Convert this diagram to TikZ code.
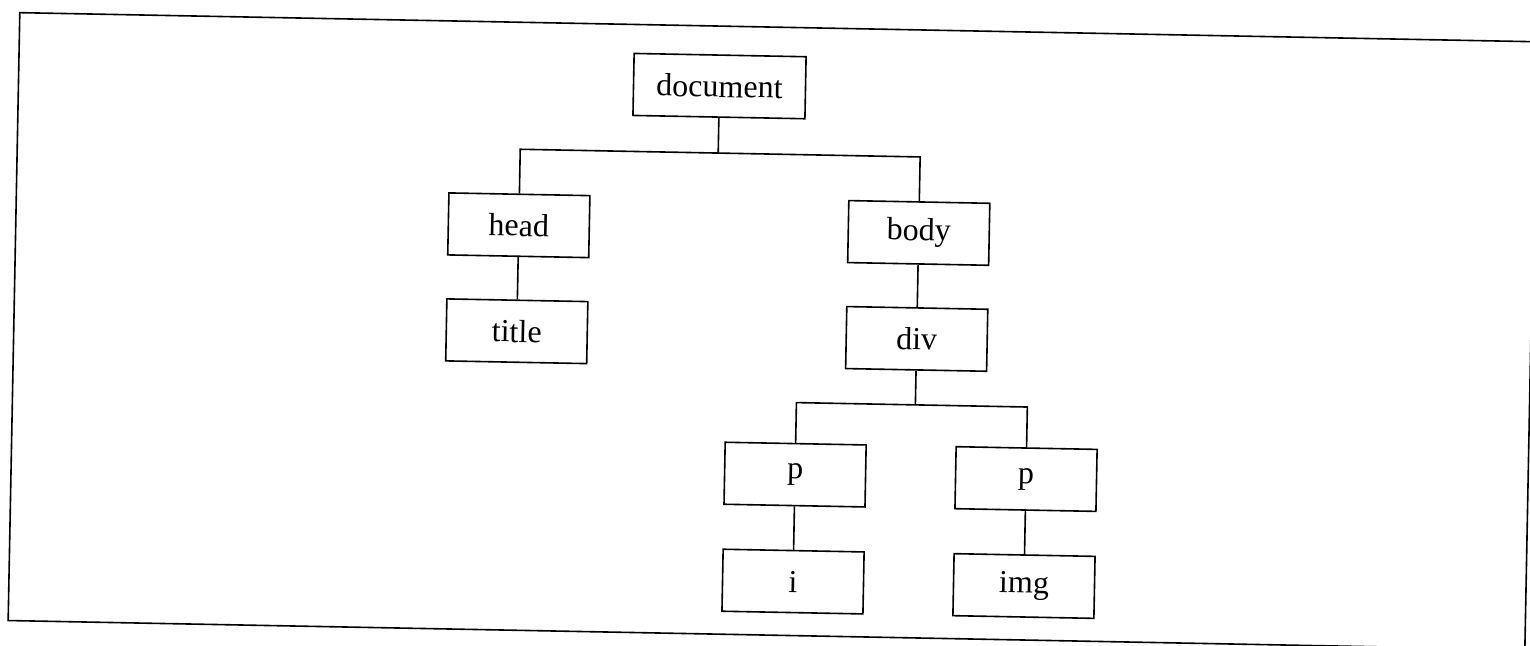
\documentclass[tikz,border=0pt]{standalone}
\usepackage{fontspec}
\setmainfont{Liberation Serif}
\begin{document}
\begin{tikzpicture}[x=1pt,y=-1pt,
  treebox/.style={draw,line width=1.6pt,minimum width=141pt,minimum height=62pt,inner sep=0pt,font=\fontsize{32}{38}\selectfont},
  link/.style={line width=1.6pt}]
\useasboundingbox (0,0) rectangle (1530,645);
\clip (0,0) rectangle (1530,645);
\fill[white] (0,0) rectangle (1530,645);
\begin{scope}[rotate around={-1.1:(765,322)},transform shape]
\draw[link] (14,27) rectangle (1531,635);
\node[treebox,minimum width=172pt] (doc) at (715,87) {document};
\node[treebox] (head) at (517,230) {head};
\node[treebox] (body) at (917,230) {body};
\node[treebox] (title) at (517,336) {title};
\node[treebox] (div) at (917,336) {div};
\node[treebox] (p1) at (798,474) {p};
\node[treebox] (p2) at (1029,474) {p};
\node[treebox] (i) at (798,581) {i};
\node[treebox] (img) at (1029,581) {img};
\coordinate (j1) at (715,154);
\coordinate (j2) at (917,402);
\draw[link] (doc.south) -- (j1);
\draw[link] (head.north) |- (j1) -| (body.north);
\draw[link] (head.south) -- (title.north);
\draw[link] (body.south) -- (div.north);
\draw[link] (div.south) -- (j2);
\draw[link] (p1.north) |- (j2) -| (p2.north);
\draw[link] (p1.south) -- (i.north);
\draw[link] (p2.south) -- (img.north);
\end{scope}
\end{tikzpicture}
\end{document}
